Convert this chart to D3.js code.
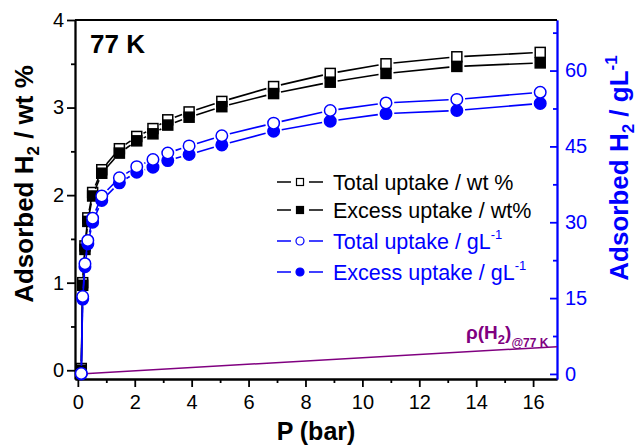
<script src="https://d3js.org/d3.v7.min.js"></script>

<svg id="chart" width="638" height="447"></svg>

<style>
body { margin: 0; padding: 0; background: #ffffff; }
svg { display: block; font-family: 'Liberation Sans', Arial, sans-serif; }
.axis text { font-size: 20px; }
.axis path, .axis line { stroke-width: 1.8; }
</style>

<script>
// pressure (bar) and the four isotherms
const pressure  = [0.12, 0.17, 0.25, 0.35, 0.52, 0.84, 1.46, 2.07, 2.64, 3.16, 3.91, 5.06, 6.88, 8.87, 10.83, 13.32, 16.25];
const totalWt   = [0.02, 1.00, 1.42, 1.74, 2.03, 2.29, 2.53, 2.67, 2.76, 2.86, 2.95, 3.07, 3.24, 3.39, 3.50, 3.58, 3.63];
const excessWt  = [0.00, 0.97, 1.38, 1.70, 1.99, 2.25, 2.48, 2.62, 2.70, 2.80, 2.89, 3.01, 3.16, 3.29, 3.39, 3.47, 3.51];
const totalVol  = [0.1, 15.3, 21.8, 26.4, 30.8, 35.2, 38.8, 41.0, 42.4, 43.7, 45.1, 47.1, 49.6, 52.1, 53.6, 54.3, 55.7];
const excessVol = [0.0, 14.8, 21.2, 25.7, 30.0, 34.3, 37.8, 39.9, 40.9, 42.2, 43.4, 45.3, 48.0, 50.0, 51.5, 52.1, 53.5];

// bulk H2 density at 77 K
const rhoP   = [0.08, 16.84];
const rhoVal = [0.0, 5.4];

const xTicks = [0, 2, 4, 6, 8, 10, 12, 14, 16];
const xMinor = d3.range(1, 17, 2);
const leftTicks = [0, 1, 2, 3, 4];
const leftMinor = [0.5, 1.5, 2.5, 3.5];
const rightTicks = [0, 15, 30, 45, 60];
const rightMinor = [7.5, 22.5, 37.5, 52.5, 67.5];

const BLUE = "#0000ff", PURPLE = "#800080";
const plot = {left: 75, right: 557, top: 20, bottom: 379};
const fmt = d3.format("d");

const svg = d3.select("#chart");

const x = d3.scaleLinear().domain([-0.1, 16.84]).range([plot.left, plot.right]);
const yL = d3.scaleLinear().domain([-0.1, 4.0]).range([plot.bottom, plot.top]);
const yR = d3.scaleLinear().domain([-1, 70]).range([plot.bottom, plot.top]);

// axes
svg.append("g").attr("class", "axis").attr("transform", `translate(0,${plot.bottom})`)
    .call(d3.axisBottom(x).tickValues(xTicks).tickFormat(fmt).tickSize(8).tickPadding(8).tickSizeOuter(0));
svg.append("g").attr("class", "axis").attr("transform", `translate(0,${plot.bottom})`)
    .call(d3.axisBottom(x).tickValues(xMinor).tickSize(4).tickFormat("").tickSizeOuter(0));

svg.append("g").attr("class", "axis").attr("transform", `translate(${plot.left},0)`)
    .call(d3.axisLeft(yL).tickValues(leftTicks).tickFormat(fmt).tickSize(8).tickPadding(3).tickSizeOuter(0));
svg.append("g").attr("class", "axis").attr("transform", `translate(${plot.left},0)`)
    .call(d3.axisLeft(yL).tickValues(leftMinor).tickSize(4).tickFormat("").tickSizeOuter(0));

const rAxis = svg.append("g").attr("class", "axis").attr("transform", `translate(${plot.right},0)`)
    .call(d3.axisRight(yR).tickValues(rightTicks).tickFormat(fmt).tickSize(-7).tickPadding(8).tickSizeOuter(0));
const rMinor = svg.append("g").attr("class", "axis").attr("transform", `translate(${plot.right},0)`)
    .call(d3.axisRight(yR).tickValues(rightMinor).tickSize(-4).tickFormat("").tickSizeOuter(0));
[rAxis, rMinor].forEach(g => {
    g.selectAll("path,line").attr("stroke", BLUE);
    g.selectAll("text").attr("fill", BLUE);
});

svg.selectAll(".axis text").attr("font-family", "'Liberation Sans', Arial, sans-serif").attr("font-size", 20);

svg.append("line").attr("x1", plot.left).attr("x2", plot.right).attr("y1", plot.top).attr("y2", plot.top)
    .attr("stroke", "#000").attr("stroke-width", 1.8);

// density line
svg.append("path")
    .datum(rhoP.map((p, i) => [p, rhoVal[i]]))
    .attr("fill", "none").attr("stroke", PURPLE).attr("stroke-width", 1.5)
    .attr("d", d3.line().x(d => x(d[0])).y(d => yR(d[1])));

// Origin style: line segments stop short of the markers
function drawSeries(vals, yScale, color, shape, filled, size) {
    const pts = pressure.map((p, i) => [x(p), yScale(vals[i])]);
    const gap = size / 2 + 2.5;
    const segs = [];
    for (let i = 1; i < pts.length; i++) {
        const [x1, y1] = pts[i - 1], [x2, y2] = pts[i];
        const len = Math.hypot(x2 - x1, y2 - y1);
        if (len <= gap * 2) continue;
        const ux = (x2 - x1) / len, uy = (y2 - y1) / len;
        segs.push([x1 + ux * gap, y1 + uy * gap, x2 - ux * gap, y2 - uy * gap]);
    }
    svg.append("g").selectAll("line").data(segs).join("line")
        .attr("x1", d => d[0]).attr("y1", d => d[1]).attr("x2", d => d[2]).attr("y2", d => d[3])
        .attr("stroke", color).attr("stroke-width", 1.6);

    const g = svg.append("g");
    if (shape === "square") {
        g.selectAll("rect").data(pts).join("rect")
            .attr("x", d => d[0] - size / 2).attr("y", d => d[1] - size / 2)
            .attr("width", size).attr("height", size)
            .attr("fill", filled ? color : "#fff").attr("stroke", color).attr("stroke-width", 1.5);
    } else {
        g.selectAll("circle").data(pts).join("circle")
            .attr("cx", d => d[0]).attr("cy", d => d[1]).attr("r", size / 2)
            .attr("fill", filled ? color : "#fff").attr("stroke", color).attr("stroke-width", 1.5);
    }
}

drawSeries(totalWt, yL, "#000", "square", false, 10);
drawSeries(excessWt, yL, "#000", "square", true, 10);
drawSeries(excessVol, yR, BLUE, "circle", true, 11.5);
drawSeries(totalVol, yR, BLUE, "circle", false, 11.5);

// legend
const legendItems = [
    {label: "Total uptake / wt %", sup: "", color: "#000", shape: "square", filled: false, y: 182},
    {label: "Excess uptake / wt%", sup: "", color: "#000", shape: "square", filled: true, y: 210},
    {label: "Total uptake / gL", sup: "-1", color: BLUE, shape: "circle", filled: false, y: 241},
    {label: "Excess uptake / gL", sup: "-1", color: BLUE, shape: "circle", filled: true, y: 272}
];
const lg = svg.append("g");
legendItems.forEach(d => {
    const row = lg.append("g").attr("transform", `translate(0,${d.y})`);
    row.append("line").attr("x1", 277).attr("x2", 291).attr("stroke", d.color).attr("stroke-width", 1.5);
    row.append("line").attr("x1", 309).attr("x2", 323).attr("stroke", d.color).attr("stroke-width", 1.5);
    if (d.shape === "square") {
        row.append("rect").attr("x", 296.5).attr("y", -3.5).attr("width", 7).attr("height", 7)
            .attr("fill", d.filled ? d.color : "#fff").attr("stroke", d.color).attr("stroke-width", 1.2);
    } else {
        row.append("circle").attr("cx", 300).attr("r", 4)
            .attr("fill", d.filled ? d.color : "#fff").attr("stroke", d.color).attr("stroke-width", 1.2);
    }
    const t = row.append("text").attr("x", 333).attr("y", 7.5).attr("font-size", 21.5).attr("fill", d.color).text(d.label);
    if (d.sup) t.append("tspan").attr("font-size", 13).attr("dy", -10).text(d.sup);
});

// annotations
svg.append("text").attr("x", 90).attr("y", 53).attr("font-size", 26).attr("font-weight", "bold").text("77 K");

const rho = svg.append("text").attr("x", 466).attr("y", 339).attr("font-size", 19)
    .attr("font-weight", "bold").attr("fill", PURPLE).text("ρ(H");
rho.append("tspan").attr("font-size", 13).attr("dy", 5).text("2");
rho.append("tspan").attr("dy", -5).text(")");
rho.append("tspan").attr("font-size", 12).attr("dy", 8).text("@77 K");

// axis titles
svg.append("text").attr("x", 316).attr("y", 440).attr("text-anchor", "middle")
    .attr("font-size", 25).attr("font-weight", "bold").text("P (bar)");

const lt = svg.append("text").attr("transform", "translate(33,184) rotate(-90)").attr("text-anchor", "middle")
    .attr("font-size", 26).attr("font-weight", "bold").text("Adsorbed H");
lt.append("tspan").attr("font-size", 17).attr("dy", 6).text("2");
lt.append("tspan").attr("dy", -6).text(" / wt %");

const rt = svg.append("text").attr("transform", "translate(628,168) rotate(-90)").attr("text-anchor", "middle")
    .attr("font-size", 26).attr("font-weight", "bold").attr("fill", BLUE).text("Adsorbed H");
rt.append("tspan").attr("font-size", 17).attr("dy", 6).text("2");
rt.append("tspan").attr("dy", -6).text(" / gL");
rt.append("tspan").attr("font-size", 17).attr("dy", -11).text("-1");
</script>
